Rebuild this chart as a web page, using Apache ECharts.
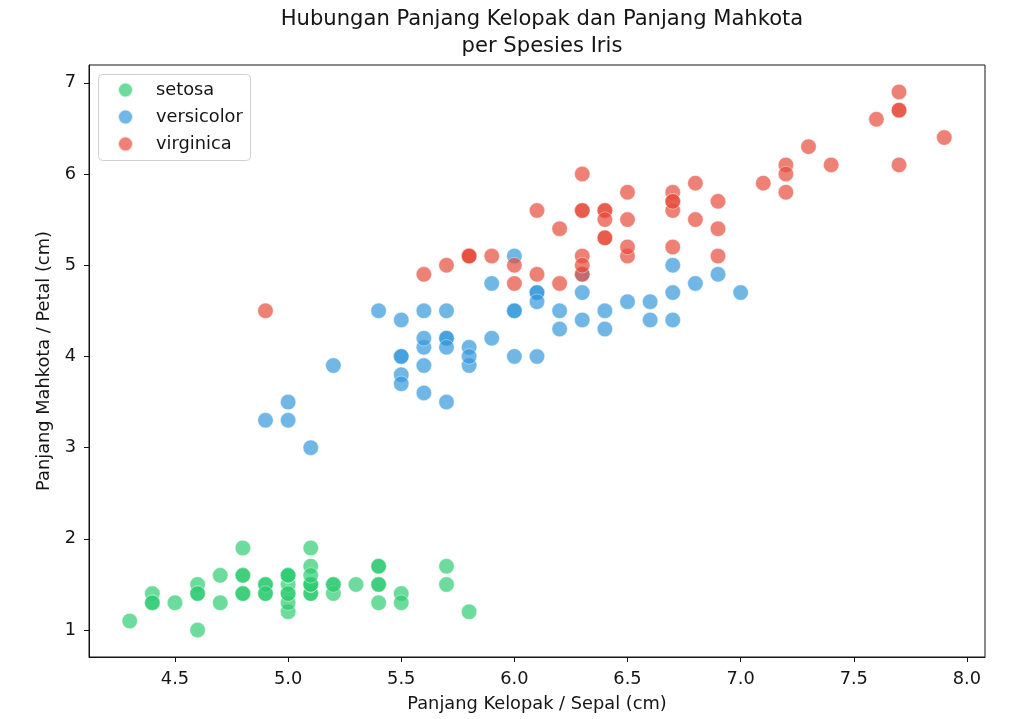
<!DOCTYPE html>
<html>
<head>
<meta charset="utf-8">
<script src="https://cdn.jsdelivr.net/npm/echarts@6/dist/echarts.min.js"></script>
<style>
html,body{margin:0;padding:0;background:#fff;}
#chart{width:1024px;height:719px;}
</style>
</head>
<body>
<div id="chart"></div>
<script>
// Sepal length (x) and petal length (y) per species
const setosaSepal = [5.1,4.9,4.7,4.6,5.0,5.4,4.6,5.0,4.4,4.9,5.4,4.8,4.8,4.3,5.8,5.7,5.4,5.1,5.7,5.1,5.4,5.1,4.6,5.1,4.8,5.0,5.0,5.2,5.2,4.7,4.8,5.4,5.2,5.5,4.9,5.0,5.5,4.9,4.4,5.1,5.0,4.5,4.4,5.0,5.1,4.8,5.1,4.6,5.3,5.0];
const setosaPetal = [1.4,1.4,1.3,1.5,1.4,1.7,1.4,1.5,1.4,1.5,1.5,1.6,1.4,1.1,1.2,1.5,1.3,1.4,1.7,1.5,1.7,1.5,1.0,1.7,1.9,1.6,1.6,1.5,1.4,1.6,1.6,1.5,1.5,1.4,1.5,1.2,1.3,1.4,1.3,1.5,1.3,1.3,1.3,1.6,1.9,1.4,1.6,1.4,1.5,1.4];
const versicolorSepal = [7.0,6.4,6.9,5.5,6.5,5.7,6.3,4.9,6.6,5.2,5.0,5.9,6.0,6.1,5.6,6.7,5.6,5.8,6.2,5.6,5.9,6.1,6.3,6.1,6.4,6.6,6.8,6.7,6.0,5.7,5.5,5.5,5.8,6.0,5.4,6.0,6.7,6.3,5.6,5.5,5.5,6.1,5.8,5.0,5.6,5.7,5.7,6.2,5.1,5.7];
const versicolorPetal = [4.7,4.5,4.9,4.0,4.6,4.5,4.7,3.3,4.6,3.9,3.5,4.2,4.0,4.7,3.6,4.4,4.5,4.1,4.5,3.9,4.8,4.0,4.9,4.7,4.3,4.4,4.8,5.0,4.5,3.5,3.8,3.7,3.9,5.1,4.5,4.5,4.7,4.4,4.1,4.0,4.4,4.6,4.0,3.3,4.2,4.2,4.2,4.3,3.0,4.1];
const virginicaSepal = [6.3,5.8,7.1,6.3,6.5,7.6,4.9,7.3,6.7,7.2,6.5,6.4,6.8,5.7,5.8,6.4,6.5,7.7,7.7,6.0,6.9,5.6,7.7,6.3,6.7,7.2,6.2,6.1,6.4,7.2,7.4,7.9,6.4,6.3,6.1,7.7,6.3,6.4,6.0,6.9,6.7,6.9,5.8,6.8,6.7,6.7,6.3,6.5,6.2,5.9];
const virginicaPetal = [6.0,5.1,5.9,5.6,5.8,6.6,4.5,6.3,5.8,6.1,5.1,5.3,5.5,5.0,5.1,5.3,5.5,6.7,6.9,5.0,5.7,4.9,6.7,4.9,5.7,6.0,4.8,4.9,5.6,5.8,6.1,6.4,5.6,5.1,5.6,6.1,5.6,5.5,4.8,5.4,5.6,5.1,5.1,5.9,5.7,5.2,5.0,5.2,5.4,5.1];

const speciesNames = ['setosa','versicolor','virginica'];
const speciesColors = ['#2ecc71','#3498db','#e74c3c'];
const xTicks = [4.5,5.0,5.5,6.0,6.5,7.0,7.5,8.0];
const yTicks = [1,2,3,4,5,6,7];

const pairs = (xs, ys) => xs.map((x, i) => [x, ys[i]]);
const seriesData = [
  pairs(setosaSepal, setosaPetal),
  pairs(versicolorSepal, versicolorPetal),
  pairs(virginicaSepal, virginicaPetal)
];

const chart = echarts.init(document.getElementById('chart'));
const font = 'DejaVu Sans';
const fs = 17.8;
const ink = '#151515';
const axisCommon = {
  axisLine: {show: true, onZero: false, lineStyle: {color: ink, width: 1}},
  axisTick: {show: true, inside: false, length: 5, lineStyle: {color: ink, width: 1}},
  splitLine: {show: false},
  nameLocation: 'middle',
  nameTextStyle: {fontFamily: font, fontSize: fs, color: ink}
};

chart.setOption({
  animation: false,
  backgroundColor: '#fff',
  textStyle: {fontFamily: font},
  title: {
    text: 'Hubungan Panjang Kelopak dan Panjang Mahkota\nper Spesies Iris',
    left: 537, top: 1, textAlign: 'center',
    textStyle: {fontFamily: font, fontSize: 21.1, fontWeight: 'normal', color: ink, lineHeight: 27}
  },
  grid: {left: 89, top: 65, right: 39, bottom: 62, show: true, borderColor: ink, borderWidth: 1, backgroundColor: 'transparent'},
  legend: {
    left: 117, top: 80, padding: 0, orient: 'vertical',
    itemWidth: 15, itemHeight: 15, itemGap: 7,
    icon: 'circle',
    data: speciesNames,
    textStyle: {fontFamily: font, fontSize: fs, color: ink, lineHeight: 20, padding: [0, 0, 0, 18]}
  },
  graphic: [{
    type: 'rect', left: 98, top: 74, z: -1,
    shape: {width: 152, height: 86, r: 4},
    style: {fill: 'rgba(255,255,255,0.8)', stroke: '#d0d0d0', lineWidth: 1}
  }],
  xAxis: Object.assign({}, axisCommon, {
    type: 'value', min: 4.12, max: 8.08,
    name: 'Panjang Kelopak / Sepal (cm)', nameGap: 38,
    axisTick: Object.assign({}, axisCommon.axisTick, {customValues: xTicks}),
    axisLabel: {customValues: xTicks, margin: 13, fontFamily: font, fontSize: fs, color: ink,
      formatter: v => v.toFixed(1)}
  }),
  yAxis: Object.assign({}, axisCommon, {
    type: 'value', min: 0.705, max: 7.195,
    name: 'Panjang Mahkota / Petal (cm)', nameGap: 31,
    axisTick: Object.assign({}, axisCommon.axisTick, {customValues: yTicks}),
    axisLabel: {customValues: yTicks, margin: 13, fontFamily: font, fontSize: fs, color: ink,
      formatter: v => String(Math.round(v))}
  }),
  series: speciesNames.map((name, i) => ({
    name: name,
    type: 'scatter',
    symbol: 'circle',
    symbolSize: 15.5,
    data: seriesData[i],
    itemStyle: {color: speciesColors[i], opacity: 0.7, borderColor: '#fff', borderWidth: 0.6}
  }))
});
</script>
</body>
</html>
